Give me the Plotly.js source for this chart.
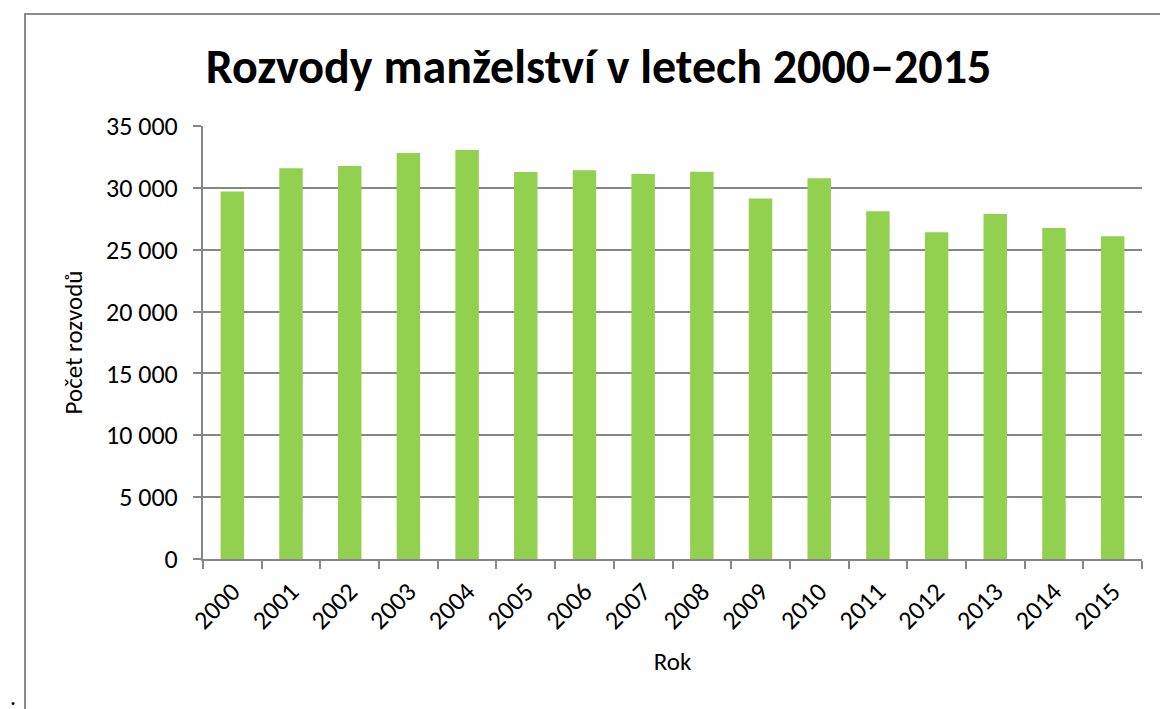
<!DOCTYPE html>
<html>
<head>
<meta charset="utf-8">
<script src="https://cdn.plot.ly/plotly-3.0.1.min.js"></script>
<style>
  html, body { margin: 0; padding: 0; background: #fff; overflow: hidden; }
  #wrap { position: relative; width: 1160px; height: 709px; }
  #chart { width: 1160px; height: 709px; }
  #frame { position: absolute; left: 24px; top: 13px; width: 1200px; height: 800px;
           border: 2px solid #8a8a8a; pointer-events: none; box-sizing: border-box; }
  #dot { position: absolute; left: 10px; top: 682px; font: 24px Carlito, sans-serif; color: #000; }
</style>
</head>
<body>
<div id="wrap">
  <div id="chart"></div>
  <div id="frame"></div>
  <div id="dot">.</div>
</div>
<script>
const years = ['2000','2001','2002','2003','2004','2005','2006','2007','2008','2009','2010','2011','2012','2013','2014','2015'];
const divorces = [29704, 31586, 31758, 32824, 33060, 31288, 31415, 31129, 31300, 29133, 30783, 28113, 26402, 27895, 26764, 26083];
const titleText = 'Rozvody manželství v letech 2000–2015';
const xTitle = 'Rok';
const yTitle = 'Počet rozvodů';

const font = "Carlito, Calibri, 'Open Sans', sans-serif";

Plotly.newPlot('chart', [{
  type: 'bar',
  x: years,
  y: divorces,
  marker: { color: '#92D050' },
  hoverinfo: 'x+y'
}], {
  width: 1160, height: 709,
  margin: { l: 203, r: 18, t: 126, b: 150 },
  paper_bgcolor: 'rgba(0,0,0,0)',
  plot_bgcolor: 'rgba(0,0,0,0)',
  separators: ', ',
  bargap: 0.6,
  font: { family: font, size: 26, color: '#000' },
  title: {
    text: '<b>' + titleText + '</b>',
    font: { family: font, size: 48, color: '#000' },
    x: 0.516, xanchor: 'center', y: 0.906, yanchor: 'middle', xref: 'container', yref: 'container'
  },
  xaxis: {
    type: 'category',
    tickangle: -45,
    ticks: 'outside', ticklen: 8, tickcolor: '#868686', tickwidth: 2,
    tickson: 'boundaries',
    ticklabelstandoff: 5,
    showline: true, linecolor: '#868686', linewidth: 2,
    showgrid: false,
    tickfont: { family: font, size: 26, color: '#000' },
    title: { text: xTitle, font: { family: font, size: 25, color: '#000' }, standoff: 18 }
  },
  yaxis: {
    range: [0, 35000],
    dtick: 5000,
    tickformat: ',d',
    ticks: 'outside', ticklen: 8, tickcolor: '#868686', tickwidth: 2,
    ticklabelstandoff: 10,
    showline: true, linecolor: '#868686', linewidth: 2,
    showgrid: true, gridcolor: '#868686', gridwidth: 2,
    zeroline: false,
    tickfont: { family: font, size: 26, color: '#000' },
    title: { text: yTitle, font: { family: font, size: 25, color: '#000' }, standoff: 16 }
  },
  showlegend: false
}, { displayModeBar: false, staticPlot: true });
</script>
</body>
</html>
